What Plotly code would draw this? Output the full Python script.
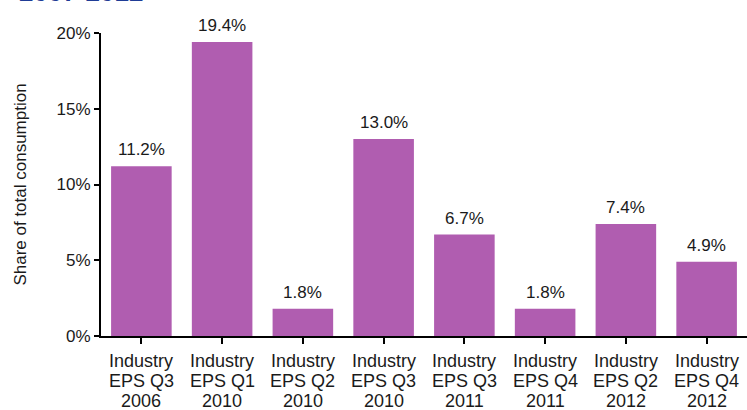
import plotly.graph_objects as go

cat_line1 = ["Industry"] * 8
cat_line2 = ["EPS Q3", "EPS Q1", "EPS Q2", "EPS Q3", "EPS Q3", "EPS Q4", "EPS Q2", "EPS Q4"]
cat_line3 = ["2006", "2010", "2010", "2010", "2011", "2011", "2012", "2012"]
shares = [11.2, 19.4, 1.8, 13.0, 6.7, 1.8, 7.4, 4.9]
y_ticks = [0, 5, 10, 15, 20]
y_tick_text = ["0%", "5%", "10%", "15%", "20%"]

font_name = "Liberation Sans, Arial, sans-serif"
bar_color = "#B05DB0"
txt_color = "#1a1a1a"
xs = list(range(len(shares)))

fig = go.Figure()
fig.add_trace(go.Bar(x=xs, y=shares, width=0.75,
                     marker=dict(color=bar_color, line=dict(width=0))))

# value labels above bars
for i, v in enumerate(shares):
    fig.add_annotation(x=i, y=v, text=f"{v:.1f}%", showarrow=False, yanchor="bottom",
                       yshift=5, font=dict(family=font_name, size=17, color=txt_color))

# category labels, one annotation per line for tight line spacing
for k, lines in enumerate([cat_line1, cat_line2, cat_line3]):
    for i, t in enumerate(lines):
        fig.add_annotation(x=i, y=0, text=t, showarrow=False, yanchor="middle",
                           yshift=-(25 + 20 * k),
                           font=dict(family=font_name, size=18, color=txt_color))

# clipped heading at the very top
fig.add_annotation(xref="paper", yref="paper", x=-0.13, y=1.079, xanchor="left", yanchor="bottom",
                   text="<b>2007-2012</b>", showarrow=False,
                   font=dict(family=font_name, size=26, color="#1F3C96"))

fig.update_layout(
    width=747, height=410,
    margin=dict(l=101, r=0, t=33, b=74),
    paper_bgcolor="white", plot_bgcolor="white",
    showlegend=False,
    font=dict(family=font_name, size=17, color=txt_color),
)
fig.update_xaxes(
    tickmode="array", tickvals=xs, showticklabels=False,
    range=[-0.5, 7.5], showline=True, linecolor="black", linewidth=2,
    ticks="outside", ticklen=6, tickcolor="black", tickwidth=1.5,
    tickson="boundaries", showgrid=False, zeroline=False, automargin=False,
)
fig.update_yaxes(
    range=[0, 20], tickvals=y_ticks, ticktext=y_tick_text,
    showline=True, linecolor="black", linewidth=2,
    ticks="outside", ticklen=5, tickcolor="black", tickwidth=1.5,
    showgrid=False, zeroline=False, automargin=False,
    tickfont=dict(family=font_name, size=17, color=txt_color),
    title=dict(text="Share of total consumption", standoff=26,
               font=dict(family=font_name, size=17, color=txt_color)),
)

fig.write_html("out.html", config={"displayModeBar": False},
               post_script="document.body.style.margin='0';")
